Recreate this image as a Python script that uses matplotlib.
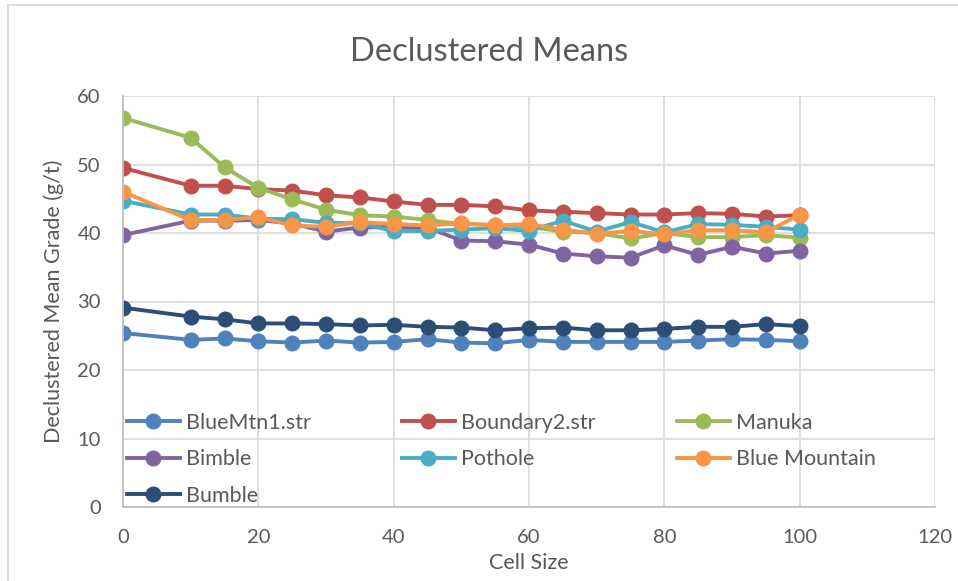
import matplotlib
matplotlib.use("Agg")
import matplotlib.pyplot as plt
from matplotlib.lines import Line2D

plt.rcParams['font.family'] = ['Lato', 'DejaVu Sans']

cell_size = [0, 10, 15, 20, 25, 30, 35, 40, 45, 50, 55, 60, 65, 70, 75, 80, 85, 90, 95, 100]

blue_mtn1 = [25.4, 24.4, 24.6, 24.2, 24.0, 24.3, 24.0, 24.1, 24.5, 24.0, 23.9, 24.4, 24.1, 24.1, 24.1, 24.1, 24.3, 24.5, 24.4, 24.2]
boundary2 = [49.5, 46.9, 46.9, 46.4, 46.2, 45.5, 45.2, 44.6, 44.1, 44.1, 43.9, 43.3, 43.1, 42.9, 42.7, 42.7, 42.9, 42.8, 42.4, 42.6]
manuka = [56.8, 53.9, 49.6, 46.6, 44.9, 43.4, 42.6, 42.4, 41.9, 41.3, 41.2, 40.9, 40.2, 40.0, 39.2, 40.0, 39.4, 39.4, 39.7, 39.3]
bimble = [39.7, 41.8, 41.8, 41.9, 41.4, 40.2, 40.8, 40.9, 40.8, 38.9, 38.8, 38.3, 37.0, 36.6, 36.4, 38.2, 36.8, 38.0, 37.0, 37.4]
pothole = [44.7, 42.7, 42.7, 42.1, 42.0, 41.5, 41.4, 40.3, 40.3, 40.5, 40.7, 40.3, 41.8, 40.2, 41.6, 40.1, 41.3, 41.2, 40.9, 40.5]
blue_mountain = [46.0, 41.9, 41.9, 42.3, 41.1, 40.9, 41.6, 41.3, 41.1, 41.4, 41.1, 41.3, 40.5, 39.9, 40.3, 39.8, 40.4, 40.4, 40.1, 42.7]
bumble = [29.1, 27.8, 27.4, 26.8, 26.8, 26.7, 26.5, 26.6, 26.3, 26.2, 25.8, 26.1, 26.2, 25.8, 25.8, 26.0, 26.3, 26.3, 26.7, 26.4]

series = [
    ("BlueMtn1.str", blue_mtn1, "#4F81BD"),
    ("Boundary2.str", boundary2, "#C0504D"),
    ("Manuka", manuka, "#9BBB59"),
    ("Bimble", bimble, "#8064A2"),
    ("Pothole", pothole, "#4BACC6"),
    ("Blue Mountain", blue_mountain, "#F79646"),
    ("Bumble", bumble, "#2C4D75"),
]

text_color = "#595959"
grid_color = "#D9D9D9"

W, H = 958, 581
fig = plt.figure(figsize=(W / 100, H / 100), dpi=100)

# chart-area outline (left and top edges)
fig.add_artist(Line2D([8 / W, 8 / W], [0, 1 - 5 / H], transform=fig.transFigure,
                      color="#D9D9D9", linewidth=1.3))
fig.add_artist(Line2D([8 / W, 1], [1 - 5 / H, 1 - 5 / H], transform=fig.transFigure,
                      color="#D9D9D9", linewidth=1.3))

left, right, top, bottom = 123, 935, 96, 507
ax = fig.add_axes([left / W, 1 - bottom / H, (right - left) / W, (bottom - top) / H])

handles = {}
for name, vals, color in series:
    h, = ax.plot(cell_size, vals, color=color, linewidth=2.8, marker='o',
                 markersize=10.5, label=name)
    handles[name] = h

ax.set_xlim(0, 120)
ax.set_ylim(0, 60)
ax.set_xticks(range(0, 121, 20))
ax.set_yticks(range(0, 61, 10))
ax.grid(True, color=grid_color, linewidth=1.2)
ax.set_axisbelow(True)
for s in ['top', 'right']:
    ax.spines[s].set_visible(False)
for s in ['left', 'bottom']:
    ax.spines[s].set_color("#BFBFBF")
    ax.spines[s].set_linewidth(1.3)
ax.tick_params(axis='both', length=0, labelsize=14.5, colors=text_color)
ax.tick_params(axis='x', pad=16)
ax.tick_params(axis='y', pad=16)

fig.text(489 / W, 1 - 61 / H, "Declustered Means", fontsize=23.5, color=text_color,
         ha='center', va='baseline')
ax.set_xlabel("Cell Size", fontsize=15.5, color=text_color, labelpad=5)
ax.set_ylabel("Declustered Mean Grade (g/t)", fontsize=15.5, color=text_color, labelpad=9.5)

# legend laid out as three fixed columns, filled row by row
columns = [["BlueMtn1.str", "Bimble", "Bumble"],
           ["Boundary2.str", "Pothole"],
           ["Manuka", "Blue Mountain"]]
col_px = [127, 402, 677]
legend_top_px = 413
legends = []
for names, xpx in zip(columns, col_px):
    leg = ax.legend([handles[n] for n in names], names, loc='upper left',
                    bbox_to_anchor=((xpx - left) / (right - left),
                                    (bottom - legend_top_px) / (bottom - top)),
                    bbox_transform=ax.transAxes, frameon=False, fontsize=15.5,
                    handlelength=2.45, handletextpad=0.28, labelspacing=0.76,
                    borderpad=0, borderaxespad=0)
    for t in leg.get_texts():
        t.set_color(text_color)
    legends.append(leg)
for leg in legends[:-1]:
    ax.add_artist(leg)

fig.savefig("out.png", dpi=100)
